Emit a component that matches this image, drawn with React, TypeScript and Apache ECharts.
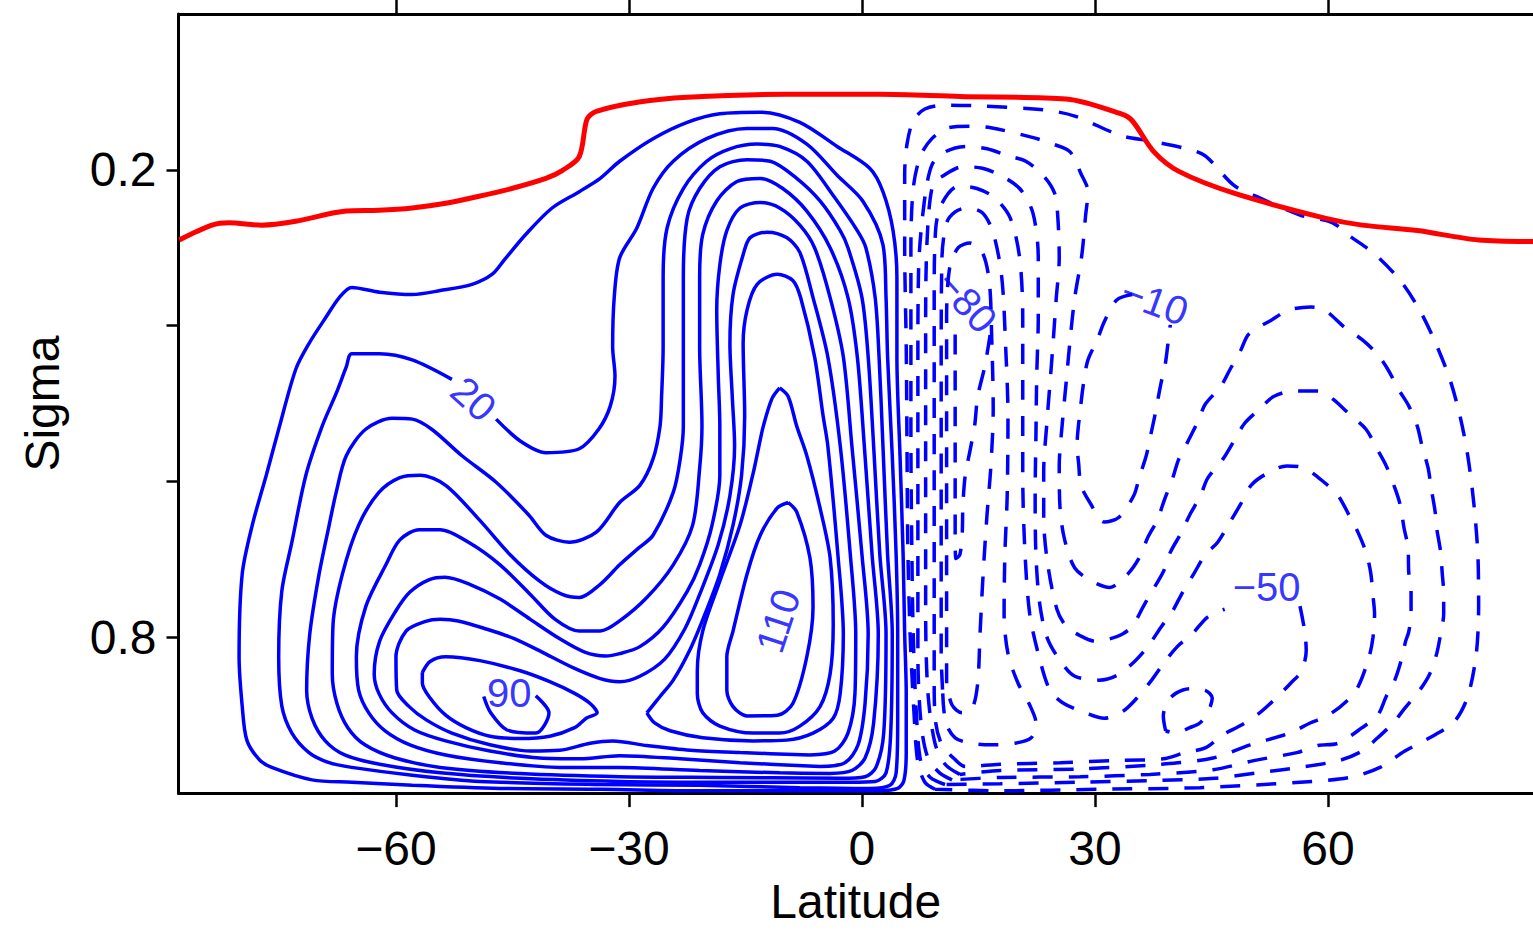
import React, { useEffect, useRef } from "react";
import * as echarts from "echarts";

const latTicks = [-60, -30, 0, 30, 60];
const sigmaTicks = [0.2, 0.4, 0.6, 0.8];
const sigmaLabels = [0.2, 0.8];

// positive (solid) streamfunction contours: [latitude, sigma]
const pos10 = [[2.3,0.997],[4.6,0.994],[5.4,0.984],[5.7,0.948],[5.7,0.872],[5.5,0.796],[5.3,0.694],[4.9,0.567],[4.5,0.440],[4.5,0.338],[4.0,0.278],[2.7,0.228],[1.0,0.198],[-3.2,0.170],[-8.0,0.139],[-13.1,0.126],[-18.3,0.128],[-22.5,0.139],[-26.9,0.160],[-31.2,0.189],[-33.7,0.211],[-36.4,0.228],[-39.9,0.249],[-43.3,0.283],[-46.0,0.315],[-47.6,0.334],[-50.2,0.347],[-54.3,0.355],[-57.9,0.360],[-62.1,0.357],[-65.7,0.351],[-67.3,0.364],[-69.0,0.389],[-71.2,0.423],[-72.9,0.456],[-75.1,0.533],[-76.7,0.592],[-78.5,0.656],[-79.8,0.719],[-80.2,0.825],[-79.8,0.888],[-79.2,0.932],[-77.6,0.957],[-76.0,0.967],[-70.8,0.983],[-65.7,0.986],[-57.9,0.990],[-46.6,0.994],[-33.7,0.995],[-20.9,0.997],[-8.0,0.997],[2.3,0.997]];
const pos20 = [[-47.1,0.520],[-44.0,0.548],[-40.7,0.563],[-36.4,0.558],[-33.9,0.533],[-32.4,0.503],[-31.8,0.465],[-32.1,0.427],[-31.9,0.364],[-31.2,0.313],[-29.0,0.275],[-26.9,0.224],[-24.3,0.189],[-20.0,0.160],[-14.8,0.147],[-11.5,0.147],[-7.1,0.167],[-3.2,0.207],[0.1,0.240],[2.7,0.296],[3.1,0.364],[3.3,0.440],[3.9,0.567],[4.4,0.694],[4.6,0.796],[4.6,0.910],[4.4,0.974],[3.6,0.990],[1.0,0.994],[-8.0,0.993],[-20.9,0.990],[-33.7,0.989],[-49.2,0.985],[-57.9,0.977],[-65.7,0.967],[-68.6,0.961],[-71.2,0.948],[-73.4,0.923],[-74.7,0.888],[-75.1,0.825],[-74.7,0.741],[-73.4,0.678],[-71.6,0.592],[-69.5,0.529],[-67.7,0.487],[-66.4,0.453],[-65.7,0.436],[-62.1,0.436],[-57.9,0.444],[-52.8,0.469]];
const pos30 = [[-1.5,0.986],[1.7,0.985],[3.1,0.974],[3.7,0.923],[3.9,0.796],[3.3,0.694],[2.7,0.554],[2.2,0.440],[1.7,0.364],[0.5,0.300],[-0.6,0.278],[-3.7,0.233],[-7.1,0.189],[-10.6,0.170],[-13.5,0.167],[-17.0,0.173],[-20.0,0.189],[-23.0,0.224],[-25.1,0.275],[-25.6,0.338],[-25.6,0.427],[-25.8,0.491],[-26.0,0.529],[-26.9,0.571],[-28.6,0.605],[-31.2,0.627],[-34.2,0.665],[-37.7,0.678],[-40.7,0.669],[-42.9,0.643],[-47.1,0.601],[-51.5,0.567],[-55.4,0.533],[-57.9,0.520],[-60.5,0.519],[-63.9,0.533],[-66.4,0.567],[-67.7,0.614],[-68.6,0.656],[-69.9,0.719],[-71.1,0.796],[-71.5,0.868],[-70.8,0.904],[-69.1,0.933],[-66.6,0.951],[-62.1,0.963],[-54.3,0.974],[-44.0,0.981],[-31.2,0.985],[-18.3,0.986],[-1.5,0.986]];
const pos40 = [[-2.8,0.981],[0.4,0.979],[1.8,0.967],[2.8,0.923],[3.1,0.796],[2.3,0.694],[1.5,0.554],[0.8,0.440],[0.0,0.364],[-1.8,0.300],[-2.8,0.278],[-5.4,0.240],[-8.4,0.211],[-11.8,0.189],[-14.8,0.187],[-18.3,0.196],[-20.9,0.224],[-22.5,0.262],[-23.0,0.338],[-23.0,0.427],[-23.0,0.529],[-23.4,0.571],[-24.3,0.614],[-26.9,0.669],[-28.7,0.685],[-31.2,0.707],[-33.7,0.732],[-36.4,0.749],[-38.6,0.745],[-41.5,0.728],[-45.3,0.694],[-49.2,0.650],[-53.6,0.605],[-56.9,0.592],[-59.5,0.595],[-62.2,0.614],[-64.8,0.656],[-66.9,0.719],[-68.1,0.783],[-68.2,0.847],[-67.6,0.885],[-66.2,0.916],[-64.0,0.938],[-60.1,0.955],[-54.3,0.967],[-44.0,0.975],[-31.2,0.979],[-18.3,0.980],[-2.8,0.981]];
const pos50 = [[-4.1,0.975],[-1.3,0.971],[0.4,0.955],[1.5,0.910],[2.1,0.796],[1.3,0.694],[0.3,0.554],[-0.6,0.440],[-1.8,0.364],[-4.1,0.300],[-7.1,0.253],[-10.2,0.224],[-13.1,0.211],[-16.1,0.215],[-18.7,0.240],[-20.5,0.283],[-20.9,0.338],[-20.9,0.427],[-20.6,0.529],[-20.9,0.583],[-21.8,0.656],[-24.3,0.707],[-27.7,0.749],[-31.2,0.779],[-33.7,0.792],[-36.4,0.792],[-39.5,0.777],[-42.7,0.745],[-46.6,0.707],[-50.5,0.679],[-54.3,0.662],[-57.0,0.662],[-59.5,0.675],[-61.3,0.707],[-63.9,0.761],[-65.1,0.825],[-64.8,0.868],[-63.5,0.897],[-61.4,0.920],[-58.2,0.938],[-53.6,0.951],[-46.6,0.961],[-38.9,0.967],[-31.2,0.967],[-20.9,0.971],[-10.6,0.974],[-4.1,0.975]];
const pos60 = [[-5.4,0.966],[-2.2,0.961],[-0.5,0.938],[0.4,0.885],[0.8,0.796],[0.0,0.694],[-1.3,0.554],[-2.4,0.440],[-4.1,0.364],[-6.1,0.300],[-8.0,0.271],[-10.6,0.249],[-13.1,0.242],[-15.7,0.249],[-17.4,0.278],[-18.3,0.322],[-18.7,0.380],[-18.5,0.465],[-18.3,0.529],[-18.3,0.592],[-19.3,0.656],[-20.9,0.707],[-22.5,0.741],[-25.6,0.787],[-28.6,0.812],[-31.2,0.821],[-33.0,0.824],[-35.7,0.819],[-38.9,0.802],[-42.7,0.777],[-46.6,0.751],[-50.5,0.732],[-53.7,0.723],[-55.7,0.726],[-58.2,0.742],[-60.0,0.766],[-62.1,0.805],[-62.8,0.847],[-62.2,0.872],[-60.5,0.897],[-57.6,0.919],[-53.6,0.933],[-47.9,0.946],[-41.5,0.955],[-36.3,0.956],[-31.2,0.952],[-23.4,0.956],[-15.7,0.961],[-5.4,0.966]];
const pos70 = [[-6.7,0.951],[-3.5,0.946],[-1.8,0.923],[-0.9,0.872],[-0.8,0.796],[-1.5,0.694],[-2.8,0.554],[-4.4,0.440],[-6.3,0.364],[-8.0,0.306],[-9.7,0.287],[-12.2,0.280],[-14.4,0.287],[-15.3,0.309],[-16.6,0.360],[-17.0,0.423],[-16.7,0.491],[-16.4,0.554],[-17.0,0.618],[-18.5,0.681],[-20.9,0.745],[-22.8,0.789],[-25.4,0.828],[-28.6,0.850],[-31.2,0.857],[-33.7,0.853],[-37.0,0.840],[-40.8,0.821],[-44.7,0.802],[-48.5,0.789],[-52.0,0.779],[-54.3,0.777],[-56.3,0.780],[-58.7,0.792],[-60.0,0.825],[-59.9,0.868],[-58.3,0.889],[-56.1,0.906],[-52.8,0.923],[-47.9,0.938],[-42.7,0.946],[-38.9,0.945],[-35.0,0.936],[-32.1,0.933],[-27.7,0.939],[-22.1,0.945],[-15.7,0.948],[-6.7,0.951]];
const pos80West = [[-56.6,0.845],[-55.6,0.831],[-53.6,0.825],[-49.2,0.830],[-44.0,0.843],[-40.2,0.857],[-37.0,0.872],[-35.0,0.885],[-34.1,0.897],[-35.5,0.904],[-37.0,0.916],[-40.2,0.927],[-44.0,0.930],[-47.9,0.927],[-51.0,0.916],[-53.6,0.900],[-55.6,0.878],[-56.6,0.859],[-56.6,0.845]];
const pos80East = [[-27.7,0.897],[-26.0,0.876],[-24.3,0.855],[-22.1,0.815],[-20.2,0.770],[-18.3,0.719],[-16.6,0.656],[-15.5,0.592],[-15.1,0.516],[-15.3,0.423],[-14.8,0.380],[-13.5,0.347],[-10.9,0.334],[-8.9,0.342],[-7.9,0.364],[-6.1,0.440],[-5.0,0.516],[-4.4,0.554],[-3.1,0.694],[-2.4,0.796],[-2.8,0.872],[-3.7,0.904],[-6.3,0.923],[-9.7,0.932],[-14.0,0.933],[-20.5,0.929],[-24.7,0.920],[-26.7,0.910],[-27.7,0.897]];
const pos90West = [[-42.0,0.875],[-40.3,0.897],[-42.0,0.923],[-45.7,0.919],[-47.8,0.897],[-48.7,0.876]];
const pos90East = [[-10.6,0.480],[-9.5,0.491],[-8.4,0.529],[-7.1,0.567],[-5.4,0.634],[-4.1,0.698],[-3.7,0.783],[-4.1,0.847],[-5.4,0.889],[-8.0,0.914],[-10.6,0.923],[-14.0,0.923],[-18.3,0.914],[-20.5,0.897],[-21.2,0.872],[-21.2,0.843],[-20.5,0.792],[-18.3,0.728],[-15.7,0.656],[-14.0,0.589],[-13.4,0.561],[-12.7,0.529],[-11.6,0.494],[-10.6,0.480]];
const pos100 = [[-9.5,0.627],[-8.4,0.639],[-6.7,0.698],[-6.3,0.761],[-7.1,0.825],[-8.9,0.885],[-10.9,0.900],[-14.8,0.901],[-16.6,0.889],[-17.4,0.868],[-17.4,0.825],[-16.6,0.792],[-14.8,0.719],[-13.1,0.669],[-10.9,0.634],[-9.5,0.627]];

// negative (dashed) contours
const neg10 = [[9.4,0.995],[8.1,0.986],[7.2,0.961],[6.7,0.897],[6.2,0.796],[5.9,0.681],[5.8,0.554],[5.7,0.427],[5.5,0.300],[5.5,0.205],[5.8,0.167],[6.6,0.137],[8.1,0.122],[10.7,0.117],[15.2,0.118],[23.4,0.123],[27.4,0.131],[33.3,0.156],[37.1,0.163],[41.8,0.173],[44.2,0.182],[47.9,0.220],[51.2,0.236],[56.4,0.258],[60.6,0.268],[62.8,0.285],[66.0,0.308],[69.3,0.342],[71.8,0.380],[73.8,0.421],[75.7,0.469],[77.0,0.516],[78.0,0.567],[78.8,0.630],[79.3,0.694],[79.4,0.758],[79.1,0.821],[78.0,0.876],[76.3,0.908],[73.8,0.925],[69.9,0.946],[66.7,0.967],[62.8,0.980],[56.4,0.986],[43.5,0.993],[30.6,0.995],[17.8,0.997],[9.4,0.995]];
const neg10Tongue = [[34.8,0.360],[32.8,0.367],[31.2,0.395],[30.3,0.418],[29.1,0.444],[28.6,0.469],[28.2,0.500],[27.7,0.554],[27.9,0.577],[28.2,0.605],[29.4,0.628],[31.2,0.652],[33.1,0.646],[35.0,0.618],[35.7,0.595],[36.6,0.567],[37.1,0.544],[37.7,0.516],[38.5,0.474],[39.0,0.453],[39.4,0.423],[39.7,0.399]];
const neg20 = [[10.7,0.989],[8.8,0.980],[7.6,0.961],[7.0,0.897],[6.6,0.796],[6.4,0.669],[6.3,0.541],[6.3,0.414],[6.3,0.300],[6.6,0.224],[7.5,0.183],[9.0,0.160],[11.1,0.146],[14.0,0.144],[16.6,0.146],[21.8,0.158],[24.6,0.167],[26.8,0.177],[28.2,0.205],[29.1,0.228],[28.8,0.258],[28.3,0.310],[27.4,0.364],[26.8,0.418],[26.3,0.472],[25.8,0.525],[25.4,0.580],[25.5,0.634],[26.1,0.675],[27.4,0.711],[29.6,0.728],[31.9,0.736],[34.2,0.719],[35.7,0.698],[36.8,0.672],[38.0,0.650],[39.0,0.622],[39.9,0.599],[40.8,0.571],[42.0,0.548],[43.3,0.522],[44.2,0.501],[46.2,0.478],[47.4,0.456],[48.8,0.431],[49.8,0.411],[52.7,0.393],[55.0,0.380],[57.8,0.376],[59.6,0.380],[62.1,0.402],[64.4,0.418],[66.3,0.436],[67.7,0.456],[69.1,0.482],[70.4,0.503],[71.5,0.529],[72.1,0.554],[72.9,0.583],[73.3,0.609],[73.8,0.639],[74.0,0.660],[74.5,0.690],[74.7,0.716],[74.9,0.745],[74.9,0.770],[74.5,0.796],[74.0,0.821],[73.1,0.847],[71.8,0.868],[69.9,0.891],[68.4,0.910],[66.4,0.929],[64.4,0.946],[61.5,0.958],[56.4,0.967],[50.9,0.974],[45.4,0.981],[37.1,0.984],[28.1,0.986],[17.8,0.988],[10.7,0.989]];
const neg30 = [[11.6,0.983],[10.0,0.974],[8.5,0.955],[7.6,0.910],[7.2,0.821],[7.2,0.694],[7.2,0.567],[7.2,0.440],[7.3,0.325],[8.0,0.243],[9.0,0.194],[10.7,0.177],[13.5,0.170],[16.1,0.173],[18.8,0.182],[21.1,0.189],[23.4,0.208],[24.8,0.230],[25.2,0.258],[25.4,0.313],[25.0,0.367],[24.6,0.423],[24.2,0.475],[23.8,0.526],[23.4,0.587],[23.4,0.647],[23.9,0.705],[25.1,0.764],[26.3,0.786],[28.1,0.798],[30.0,0.805],[31.9,0.802],[33.5,0.796],[34.8,0.786],[36.2,0.761],[37.1,0.745],[38.8,0.716],[39.7,0.691],[41.1,0.666],[42.2,0.643],[43.6,0.618],[44.5,0.596],[46.5,0.571],[47.9,0.548],[49.3,0.525],[51.2,0.507],[53.0,0.491],[55.5,0.484],[58.7,0.484],[60.6,0.494],[63.0,0.516],[64.9,0.533],[66.3,0.558],[67.5,0.580],[68.6,0.608],[69.3,0.630],[69.8,0.660],[70.3,0.684],[70.4,0.716],[70.7,0.741],[70.7,0.770],[70.4,0.793],[70.0,0.805],[69.5,0.827],[68.6,0.855],[67.5,0.876],[66.4,0.900],[64.4,0.916],[61.3,0.936],[58.7,0.939],[56.0,0.948],[50.6,0.958],[45.2,0.970],[37.1,0.976],[28.1,0.979],[17.8,0.980],[11.6,0.983]];
const neg40 = [[12.6,0.976],[10.7,0.963],[9.4,0.936],[8.5,0.872],[8.2,0.770],[8.2,0.643],[8.2,0.516],[8.2,0.389],[8.4,0.287],[9.1,0.220],[10.4,0.208],[13.0,0.196],[15.5,0.198],[17.8,0.207],[20.3,0.224],[22.0,0.255],[22.7,0.313],[22.7,0.389],[22.5,0.465],[22.4,0.541],[22.3,0.618],[22.4,0.694],[22.9,0.758],[23.9,0.802],[25.8,0.834],[27.4,0.850],[30.5,0.855],[32.8,0.849],[35.1,0.831],[36.8,0.812],[38.5,0.787],[39.9,0.768],[41.3,0.742],[42.7,0.719],[44.2,0.694],[45.8,0.678],[47.4,0.652],[48.7,0.630],[50.1,0.605],[52.1,0.590],[54.7,0.580],[57.0,0.583],[59.5,0.601],[61.3,0.618],[62.7,0.643],[63.9,0.666],[64.9,0.691],[65.5,0.717],[65.8,0.747],[66.0,0.770],[65.8,0.800],[65.3,0.825],[63.9,0.863],[62.4,0.882],[59.9,0.901],[57.7,0.910],[55.1,0.923],[50.0,0.938],[45.2,0.955],[38.4,0.963],[28.1,0.969],[17.8,0.971],[12.6,0.976]];
const neg50 = [[56.4,0.760],[57.0,0.792],[57.2,0.817],[56.6,0.843],[55.2,0.859],[53.0,0.881],[51.2,0.897],[48.8,0.913],[46.5,0.925],[44.2,0.942],[41.6,0.948],[38.8,0.956],[33.2,0.958],[25.5,0.961],[17.8,0.963],[13.3,0.966],[12.0,0.957],[10.3,0.938],[9.5,0.910],[9.3,0.859],[9.3,0.745],[9.3,0.618],[9.3,0.491],[9.3,0.364],[9.5,0.275],[10.3,0.243],[12.4,0.221],[14.8,0.224],[17.1,0.236],[19.1,0.262],[20.3,0.313],[20.7,0.389],[20.7,0.491],[20.7,0.592],[21.0,0.694],[21.6,0.770],[22.7,0.821],[24.2,0.868],[26.0,0.885],[28.8,0.897],[31.2,0.904],[33.6,0.895],[35.4,0.878],[37.3,0.855],[38.8,0.834],[40.6,0.812],[42.5,0.796],[44.5,0.774],[46.7,0.764]];
const neg60 = [[10.4,0.872],[10.8,0.910],[12.0,0.929],[14.0,0.936],[16.6,0.938],[19.7,0.936],[21.8,0.929],[22.4,0.910],[21.6,0.887],[20.1,0.859],[18.8,0.821],[18.3,0.770],[18.4,0.694],[18.7,0.618],[18.8,0.516],[18.5,0.427],[18.0,0.338],[16.9,0.281],[15.5,0.255],[13.5,0.249],[12.0,0.254],[10.9,0.268],[10.3,0.313],[10.2,0.440],[10.2,0.567],[10.2,0.694],[10.2,0.821],[10.4,0.872]];
const neg60North = [[39.1,0.920],[38.8,0.901],[39.4,0.882],[40.4,0.872],[42.2,0.866],[44.2,0.868],[45.1,0.878],[44.5,0.897],[43.5,0.910],[42.2,0.916],[40.3,0.923],[39.1,0.920]];
const neg70 = [[10.9,0.859],[10.9,0.745],[10.9,0.618],[10.9,0.491],[10.9,0.389],[11.3,0.325],[12.4,0.300],[13.9,0.294],[15.5,0.306],[16.4,0.344],[16.7,0.414],[16.9,0.507],[16.6,0.580],[16.1,0.643],[15.6,0.719],[15.2,0.796],[14.9,0.859],[14.2,0.891],[12.9,0.897],[11.6,0.887],[10.9,0.859]];
const neg80 = [[16.5,0.412],[15.8,0.453],[14.9,0.491],[14.5,0.529],[13.9,0.561],[13.3,0.592],[13.0,0.630],[12.9,0.669],[12.6,0.694],[12.1,0.699],[12.0,0.669],[12.0,0.592],[12.0,0.516],[12.0,0.440],[12.0,0.402]];

// red line (tropopause)
const tropopause = [[-87.9,0.290],[-83.7,0.271],[-81.5,0.268],[-77.3,0.271],[-72.9,0.266],[-66.4,0.253],[-62.2,0.252],[-57.9,0.249],[-53.6,0.243],[-49.3,0.234],[-45.1,0.224],[-40.7,0.211],[-38.6,0.201],[-36.4,0.183],[-35.4,0.135],[-34.2,0.125],[-28.7,0.113],[-22.5,0.107],[-9.7,0.103],[2.3,0.103],[12.6,0.106],[26.3,0.109],[33.3,0.128],[34.8,0.137],[37.6,0.177],[40.8,0.202],[47.9,0.230],[59.6,0.262],[64.4,0.271],[71.5,0.278],[79.4,0.290],[88.0,0.292]];

// contour labels: text, latitude, sigma, angle
const labelTexts = ["20", "90", "110", "\u221280", "\u221210", "\u221250"];
const labelLats = [-50.0, -45.4, -10.8, 13.5, 37.7, 52.1];
const labelSigmas = [0.494, 0.872, 0.779, 0.369, 0.369, 0.735];
const labelAngles = [-42, 0, 72, -48, -20, 0];

const FONT = "'Liberation Sans', Arial, Helvetica, sans-serif";

export default function App() {
  const ref = useRef<HTMLDivElement>(null);
  useEffect(() => {
    if (!ref.current) return;
    const chart = echarts.init(ref.current, null, { renderer: "svg" });
    const solid = [pos10, pos20, pos30, pos40, pos50, pos60, pos70, pos80West, pos80East, pos90West, pos90East, pos100];
    const dashed = [neg10, neg10Tongue, neg20, neg30, neg40, neg50, neg60, neg60North, neg70, neg80];
    const series: any[] = [];
    solid.forEach((d) =>
      series.push({
        type: "line", data: d, symbol: "none", smooth: 0.3, silent: true, z: 2,
        lineStyle: { color: "#0000ff", width: 3.5 },
      })
    );
    dashed.forEach((d) =>
      series.push({
        type: "line", data: d, symbol: "none", smooth: 0.3, silent: true, z: 2,
        lineStyle: { color: "#0000ff", width: 3.5, type: [20, 16], cap: "butt" },
      })
    );
    series.push({
      type: "line", data: tropopause, symbol: "none", smooth: 0.3, silent: true, z: 3,
      lineStyle: { color: "#ff0000", width: 5 },
    });
    series.push({
      type: "scatter", silent: true, z: 4, symbol: "circle", symbolSize: 1,
      itemStyle: { color: "rgba(0,0,0,0)" },
      data: labelTexts.map((t, i) => ({
        value: [labelLats[i], labelSigmas[i]],
        label: { show: true, formatter: t, rotate: labelAngles[i] },
      })),
      label: { show: true, position: "inside", color: "#0000ff", fontSize: 40, fontFamily: FONT },
    });

    const axisLine = { show: true, onZero: false, lineStyle: { color: "#000", width: 3 } };
    const fmtLat = (v: number) => (v < 0 ? "\u2212" + Math.abs(v) : String(v));
    chart.setOption({
      animation: false,
      backgroundColor: "#ffffff",
      grid: { left: 178.5, right: 0, top: 14, height: 786, containLabel: false },
      xAxis: [
        {
          type: "value", position: "bottom", min: -88, max: 86.4,
          axisLine,
          axisTick: { show: true, customValues: latTicks, length: 14, lineStyle: { color: "#000", width: 2.5 } },
          axisLabel: { customValues: latTicks, formatter: fmtLat, fontSize: 48, color: "#000", margin: 31, fontFamily: FONT },
          splitLine: { show: false },
          name: "Latitude", nameLocation: "middle", nameGap: 76,
          nameTextStyle: { fontSize: 48, color: "#000", fontFamily: FONT },
        },
        {
          type: "value", position: "top", min: -88, max: 86.4,
          axisLine,
          axisTick: { show: true, customValues: latTicks, length: 14, lineStyle: { color: "#000", width: 2.5 } },
          axisLabel: { show: false },
          splitLine: { show: false },
        },
      ],
      yAxis: {
        type: "value", min: 0, max: 1, inverse: true,
        axisLine,
        axisTick: { show: true, customValues: sigmaTicks, length: 12, lineStyle: { color: "#000", width: 2.5 } },
        axisLabel: { customValues: sigmaLabels, formatter: (v: number) => v.toFixed(1), fontSize: 48, color: "#000", margin: 22, fontFamily: FONT },
        splitLine: { show: false },
        name: "Sigma", nameLocation: "middle", nameGap: 112, nameRotate: 90,
        nameTextStyle: { fontSize: 48, color: "#000", fontFamily: FONT },
      },
      series,
    });
    return () => chart.dispose();
  }, []);
  return (
    <div
      ref={ref}
      style={{ position: "fixed", left: 0, top: 0, width: 1533, height: 930, background: "#fff" }}
    />
  );
}
